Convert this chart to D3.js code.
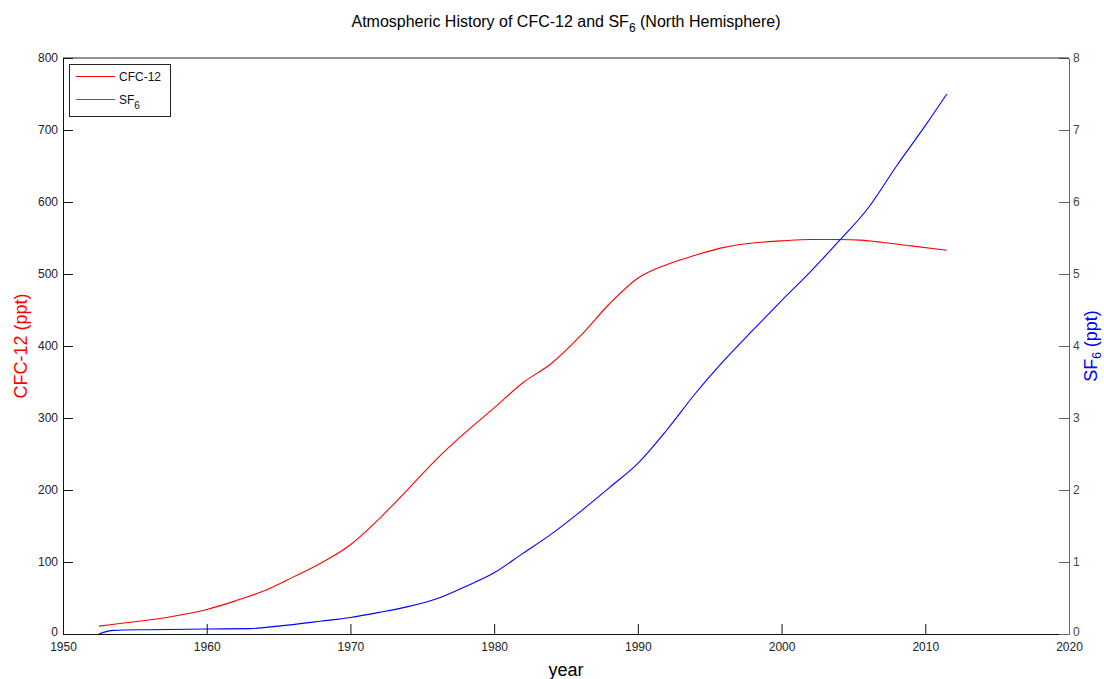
<!DOCTYPE html>
<html>
<head>
<meta charset="utf-8">
<script src="https://cdn.jsdelivr.net/npm/d3@7"></script>
<style>
  html, body { margin: 0; padding: 0; background: #fff; }
  svg { display: block; font-family: "Liberation Sans", Arial, Helvetica, sans-serif; }
</style>
</head>
<body>
<svg id="chart" width="1104" height="679"></svg>
<script>
// ---- data ----
const cfcYears = [1952.5, 1955, 1957.5, 1960, 1962, 1964, 1966, 1968, 1970, 1972, 1974, 1976, 1978, 1980, 1982, 1984, 1986, 1988, 1990, 1992, 1994, 1996, 1998, 2000, 2002, 2004, 2005.5, 2007, 2009, 2011.5];
const cfcValues = [11, 17, 24, 34, 46, 60, 79, 99, 124, 160, 201, 243, 280, 314, 349, 376, 414, 458, 494, 513, 526, 537, 543, 546, 548, 548, 547, 544, 539, 533];
const sf6Years = [1952.5, 1953.5, 1956, 1960, 1963, 1965, 1968, 1970, 1972, 1974, 1976, 1978, 1980, 1982, 1984, 1986, 1988, 1990, 1992, 1994, 1996, 1998, 2000, 2002, 2004, 2006, 2008, 2010, 2011.5];
const sf6Values = [0, 0.05, 0.06, 0.07, 0.075, 0.11, 0.18, 0.23, 0.30, 0.38, 0.49, 0.66, 0.85, 1.12, 1.39, 1.70, 2.03, 2.37, 2.83, 3.34, 3.80, 4.22, 4.63, 5.03, 5.46, 5.91, 6.50, 7.06, 7.5];
const xTicks = [1950, 1960, 1970, 1980, 1990, 2000, 2010, 2020];
const leftTicks = [0, 100, 200, 300, 400, 500, 600, 700, 800];
const rightTicks = [0, 1, 2, 3, 4, 5, 6, 7, 8];

const svg = d3.select("#chart");
const L = 63, R = 1069, T = 58, B = 634;

const x = d3.scaleLinear().domain([1950, 2020]).range([L, R]);
const yL = d3.scaleLinear().domain([0, 800]).range([B, T]);
const yR = d3.scaleLinear().domain([0, 8]).range([B, T]);

// lines
const cfc = cfcYears.map((d, i) => [d, cfcValues[i]]);
const sf6 = sf6Years.map((d, i) => [d, sf6Values[i]]);
svg.append("path").datum(cfc)
  .attr("fill", "none").attr("stroke", "#ff0000").attr("stroke-width", 1.1)
  .attr("d", d3.line().x(d => x(d[0])).y(d => yL(d[1])).curve(d3.curveMonotoneX));
svg.append("path").datum(sf6)
  .attr("fill", "none").attr("stroke", "#0000ff").attr("stroke-width", 1.1)
  .attr("d", d3.line().x(d => x(d[0])).y(d => yR(d[1])).curve(d3.curveMonotoneX));

// axes
const tickStyle = g => {
  g.selectAll("text").attr("font-size", 12).attr("font-family", "Liberation Sans, Arial, sans-serif");
};
const gx = svg.append("g").attr("transform", `translate(0,${B})`)
  .call(d3.axisBottom(x).tickValues(xTicks).tickFormat(d3.format("d")).tickSizeInner(-10).tickSizeOuter(0).tickPadding(8));
gx.call(tickStyle);
gx.selectAll("line, path").attr("stroke", "#111");
gx.selectAll("text").attr("fill", "#222");

const gl = svg.append("g").attr("transform", `translate(${L},0)`)
  .call(d3.axisLeft(yL).tickValues(leftTicks).tickSizeInner(-10).tickSizeOuter(0).tickPadding(5));
gl.call(tickStyle);
gl.selectAll("line, path").attr("stroke", "#111");
gl.selectAll("text").attr("fill", "#222");
gl.selectAll(".tick").filter(d => d === 0).select("text").attr("dy", "0.1em");

const gr = svg.append("g").attr("transform", `translate(${R},0)`)
  .call(d3.axisRight(yR).tickValues(rightTicks).tickSizeInner(-10).tickSizeOuter(0).tickPadding(4));
gr.call(tickStyle);
gr.selectAll("line, path").attr("stroke", "#666");
gr.selectAll("text").attr("fill", "#444");
gr.selectAll(".tick").filter(d => d === 0).select("text").attr("dy", "0.1em");

// top border
svg.append("line").attr("x1", L).attr("x2", R).attr("y1", T).attr("y2", T)
  .attr("stroke", "#222");

// title
const title = svg.append("text").attr("x", (L + R) / 2).attr("y", 27)
  .attr("text-anchor", "middle").attr("font-size", 16).attr("fill", "#000");
title.append("tspan").text("Atmospheric History of CFC-12 and SF");
title.append("tspan").attr("font-size", 12).attr("dy", 5).text("6");
title.append("tspan").attr("dy", -5).text(" (North Hemisphere)");

// x label
svg.append("text").attr("x", (L + R) / 2).attr("y", 676)
  .attr("text-anchor", "middle").attr("font-size", 18).attr("fill", "#000").text("year");

// left y label
svg.append("text").attr("transform", `translate(27,${(T + B) / 2}) rotate(-90)`)
  .attr("text-anchor", "middle").attr("font-size", 18).attr("fill", "#ff0000").text("CFC-12 (ppt)");

// right y label
const rl = svg.append("text").attr("transform", `translate(1097,${(T + B) / 2}) rotate(-90)`)
  .attr("text-anchor", "middle").attr("font-size", 18).attr("fill", "#0000ff");
rl.append("tspan").text("SF");
rl.append("tspan").attr("font-size", 12).attr("dy", 4).text("6");
rl.append("tspan").attr("dy", -4).text(" (ppt)");

// legend
const lg = svg.append("g");
lg.append("rect").attr("x", 69.5).attr("y", 64.5).attr("width", 101).attr("height", 52)
  .attr("fill", "#fff").attr("stroke", "#222");
lg.append("line").attr("x1", 76).attr("x2", 115).attr("y1", 76.5).attr("y2", 76.5).attr("stroke", "#ff0000");
lg.append("line").attr("x1", 76).attr("x2", 115).attr("y1", 99.5).attr("y2", 99.5).attr("stroke", "#4d4dff");
lg.append("text").attr("x", 119).attr("y", 81).attr("font-size", 12).attr("fill", "#111").text("CFC-12");
const t2 = lg.append("text").attr("x", 119).attr("y", 104).attr("font-size", 12).attr("fill", "#111");
t2.append("tspan").text("SF");
t2.append("tspan").attr("font-size", 10).attr("dy", 5).text("6");
</script>
</body>
</html>
